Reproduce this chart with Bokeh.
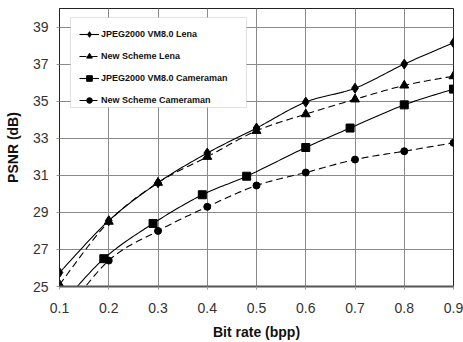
import numpy as np
from bokeh.plotting import figure
from bokeh.models import (Range1d, FixedTicker, Legend, LegendItem, BoxAnnotation)
from bokeh.embed import file_html
from bokeh.resources import INLINE

# ---- data ----
x_ticks = [0.1, 0.2, 0.3, 0.4, 0.5, 0.6, 0.7, 0.8, 0.9]
y_ticks = [25, 27, 29, 31, 33, 35, 37, 39]

jp_lena_x = [0.1, 0.2, 0.3, 0.4, 0.5, 0.6, 0.7, 0.8, 0.9]
jp_lena_y = [25.75, 28.55, 30.6, 32.2, 33.55, 34.95, 35.7, 37.0, 38.15]

new_lena_x = [0.1, 0.2, 0.3, 0.4, 0.5, 0.6, 0.7, 0.8, 0.9]
new_lena_y = [25.1, 28.5, 30.6, 32.0, 33.4, 34.3, 35.1, 35.85, 36.35]

jp_cam_x = [0.1, 0.19, 0.29, 0.39, 0.48, 0.6, 0.69, 0.8, 0.9]
jp_cam_y = [23.9, 26.5, 28.4, 29.95, 30.95, 32.5, 33.55, 34.8, 35.65]

new_cam_x = [0.1, 0.2, 0.3, 0.4, 0.5, 0.6, 0.7, 0.8, 0.9]
new_cam_y = [23.2, 26.4, 28.0, 29.3, 30.45, 31.15, 31.85, 32.3, 32.75]

names = ["JPEG2000 VM8.0 Lena", "New Scheme Lena",
         "JPEG2000 VM8.0 Cameraman", "New Scheme Cameraman"]

FONT = "Liberation Sans"


def smooth(xs, ys, n=24):
    """Catmull-Rom style smoothing (like a spreadsheet 'smoothed line')."""
    P = np.column_stack([xs, ys]).astype(float)
    out = [P[0]]
    for i in range(len(P) - 1):
        p0 = P[i - 1] if i > 0 else P[i]
        p1 = P[i]
        p2 = P[i + 1]
        p3 = P[i + 2] if i + 2 < len(P) else P[i + 1]
        c1 = p1 + (p2 - p0) / 6.0
        c2 = p2 - (p3 - p1) / 6.0
        t = np.linspace(0, 1, n + 1)[1:, None]
        seg = ((1 - t) ** 3) * p1 + 3 * ((1 - t) ** 2) * t * c1 + \
            3 * (1 - t) * t ** 2 * c2 + t ** 3 * p2
        out.extend(seg)
    out = np.array(out)
    return out[:, 0], out[:, 1]


p = figure(width=463, height=342, output_backend="svg", toolbar_location=None,
           x_range=Range1d(0.1, 0.9), y_range=Range1d(25, 40),
           min_border_left=59, min_border_right=10, min_border_top=8,
           min_border_bottom=56)

p.background_fill_color = "white"
p.border_fill_color = "white"
p.outline_line_color = "#222222"
p.outline_line_width = 1

# axes
p.xaxis.ticker = FixedTicker(ticks=x_ticks)
p.yaxis.ticker = FixedTicker(ticks=y_ticks)
p.xaxis.minor_tick_line_color = None
p.yaxis.minor_tick_line_color = None
for ax in (p.xaxis[0], p.yaxis[0]):
    ax.major_tick_in = 0
    ax.major_tick_out = 3
    ax.major_tick_line_color = "#999999"
p.xaxis.axis_line_color = "#555555"
p.xaxis.axis_line_width = 2
p.yaxis.axis_line_color = "#222222"

for ax in (p.xaxis[0], p.yaxis[0]):
    ax.major_label_text_font = FONT
    ax.major_label_text_font_size = "14px"
    ax.major_label_text_color = "#333333"
    ax.axis_label_text_font = FONT
    ax.axis_label_text_font_size = "14px"
    ax.axis_label_text_font_style = "bold"
    ax.axis_label_text_color = "#111111"

p.xaxis.major_label_standoff = 13
p.yaxis.major_label_standoff = 8
p.xaxis.axis_label = "Bit rate (bpp)"
p.yaxis.axis_label = "PSNR (dB)"
p.xaxis.axis_label_standoff = 8
p.yaxis.axis_label_standoff = 9

# grid
p.xgrid.ticker = FixedTicker(ticks=x_ticks)
p.ygrid.ticker = FixedTicker(ticks=y_ticks)
p.xgrid.grid_line_color = "#8a8a8a"
p.ygrid.grid_line_color = "#8a8a8a"
p.xgrid.grid_line_width = 1
p.ygrid.grid_line_width = 1

series = [
    (jp_lena_x, jp_lena_y, "solid", "diamond", 10),
    (new_lena_x, new_lena_y, "7 4", "triangle", 9),
    (jp_cam_x, jp_cam_y, "solid", "square", 8),
    (new_cam_x, new_cam_y, "7 4", "circle", 7),
]

items = []
for (xs, ys, dash, marker, size), name in zip(series, names):
    sx, sy = smooth(xs, ys)
    lr = p.line(sx, sy, line_color="black", line_width=1.1, line_dash=dash)
    mr = p.scatter(xs, ys, marker=marker, size=size, fill_color="black",
                   line_color="black")
    items.append(LegendItem(label=name, renderers=[lr, mr]))

# legend box
box = BoxAnnotation(left=11, right=187, top=269, bottom=179,
                    left_units="screen", right_units="screen",
                    top_units="screen", bottom_units="screen",
                    fill_color="white", fill_alpha=1.0,
                    line_color="#9a9a9a", line_width=1)
p.add_layout(box)

legend = Legend(items=items, location=(20, 179), padding=5, margin=0,
                spacing=8, glyph_height=14, glyph_width=20, label_height=14,
                label_standoff=2, label_text_font=FONT,
                label_text_font_size="9px", label_text_font_style="bold",
                label_text_color="#111111",
                background_fill_alpha=0, border_line_color=None)
p.add_layout(legend)

open("out.html", "w").write(file_html(p, INLINE))
